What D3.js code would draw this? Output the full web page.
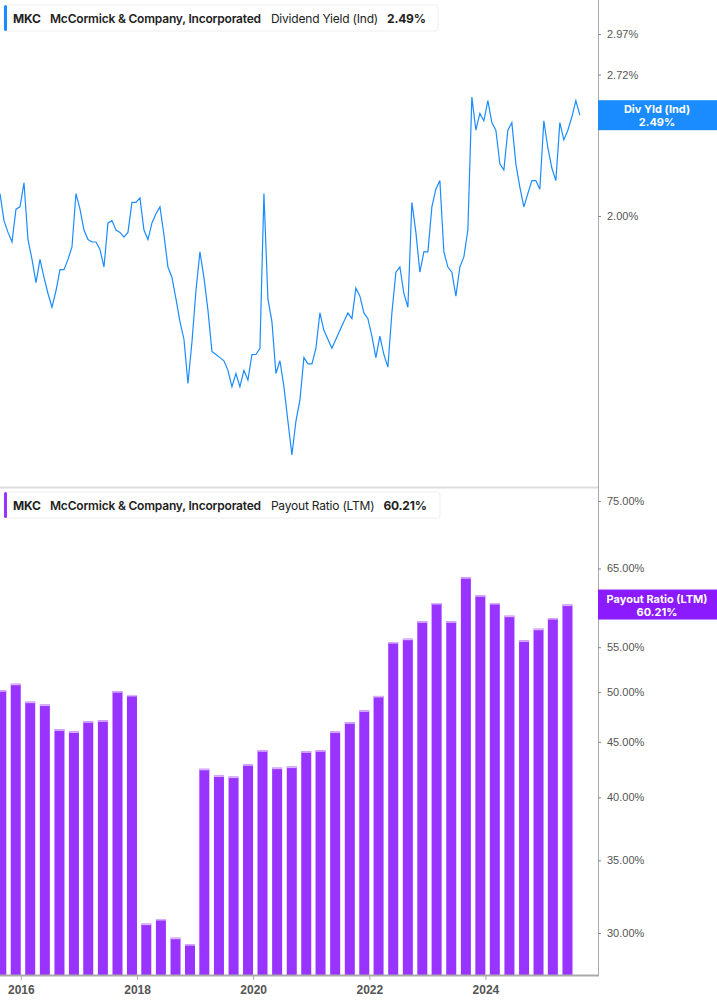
<!DOCTYPE html>
<html><head><meta charset="utf-8">
<script src="https://cdn.jsdelivr.net/npm/d3@7/dist/d3.min.js"></script>
<style>body{margin:0;background:#fff;font-family:Inter,"Noto Sans",sans-serif}</style>
</head><body><svg id="c" width="717" height="1005"></svg>
<script>
// Dividend yield (%), sampled roughly every 25 days from 2015-08-23
const yieldStart = new Date(2015, 7, 23);
const yieldStepDays = 25.15;
const yieldValues = [2.10,1.98,1.93,1.89,2.03,2.04,2.15,1.90,1.82,1.73,1.82,1.75,1.69,1.64,1.70,1.78,1.78,1.82,1.87,2.10,
2.03,1.94,1.90,1.89,1.89,1.86,1.79,1.97,1.98,1.94,1.93,1.91,1.93,2.06,2.06,2.08,1.94,1.90,1.97,2.01,
2.04,1.92,1.79,1.75,1.67,1.59,1.53,1.39,1.52,1.70,1.85,1.75,1.63,1.49,1.48,1.47,1.46,1.43,1.38,1.42,
1.38,1.43,1.40,1.48,1.48,1.50,2.10,1.67,1.59,1.42,1.46,1.38,1.28,1.19,1.28,1.34,1.47,1.45,1.45,1.50,
1.62,1.56,1.53,1.50,1.53,1.56,1.59,1.62,1.60,1.71,1.68,1.62,1.60,1.54,1.47,1.54,1.48,1.44,1.62,1.77,
1.79,1.69,1.64,2.06,1.93,1.77,1.85,1.85,2.04,2.12,2.16,1.85,1.79,1.77,1.68,1.79,1.83,1.94,2.59,2.41,
2.50,2.46,2.57,2.45,2.41,2.24,2.21,2.41,2.45,2.24,2.13,2.04,2.10,2.16,2.16,2.12,2.46,2.32,2.22,2.16,
2.45,2.36,2.41,2.48,2.57,2.49];
const yieldTicks = [2.00, 2.72, 2.97];

// Payout ratio (LTM, %) by fiscal quarter end
const payoutDates = ["2015-08-31","2015-11-30","2016-02-29","2016-05-31","2016-08-31","2016-11-30","2017-02-28","2017-05-31","2017-08-31","2017-11-30",
"2018-02-28","2018-05-31","2018-08-31","2018-11-30","2019-02-28","2019-05-31","2019-08-31","2019-11-30","2020-02-29","2020-05-31",
"2020-08-31","2020-11-30","2021-02-28","2021-05-31","2021-08-31","2021-11-30","2022-02-28","2022-05-31","2022-08-31","2022-11-30",
"2023-02-28","2023-05-31","2023-08-31","2023-11-30","2024-02-29","2024-05-31","2024-08-31","2024-11-30","2025-02-28","2025-05-31"];
const payoutValues = [50.2,50.9,49.0,48.7,46.2,46.0,47.0,47.1,50.1,49.7,
30.6,30.9,29.7,29.3,42.5,41.9,41.8,42.9,44.2,42.6,
42.7,44.1,44.2,46.0,46.9,48.1,49.6,55.6,56.0,58.1,
60.4,58.1,63.8,61.4,60.4,58.8,55.8,57.2,58.5,60.21];
const payoutTicks = [30,35,40,45,50,55,65,75];
const yearTicks = [2016,2018,2020,2022,2024];

const svg = d3.select("#c");
const W = 598;
const x = d3.scaleTime().domain([new Date(2015,7,23), new Date(2025,11,9)]).range([0, W]);
const yTop = d3.scaleLog().domain([2.00*Math.exp(-271/460), 2.00*Math.exp(216/460)]).range([487, 0]);
const yBot = d3.scaleLog().domain([30*Math.exp(-42/471.5), 30*Math.exp(433/471.5)]).range([975, 500]);
const blue = "#1a8cff", purple = "#9933ff", grey = "#555";

svg.append("line").attr("x1",0).attr("x2",W).attr("y1",487.5).attr("y2",487.5).attr("stroke","#ddd").attr("stroke-width",2);
svg.append("line").attr("x1",W+0.5).attr("x2",W+0.5).attr("y1",0).attr("y2",976).attr("stroke","#aaa");

const pts = yieldValues.map((v,i)=>({d:new Date(yieldStart.getTime()+i*yieldStepDays*864e5), v}));
svg.append("path").datum(pts).attr("fill","none").attr("stroke",blue).attr("stroke-width",1.2)
  .attr("d", d3.line().x(d=>x(d.d)).y(d=>yTop(d.v)));

const parse = d3.timeParse("%Y-%m-%d");
const bars = payoutDates.map((d,i)=>({d:parse(d), v:payoutValues[i]}));
const g = svg.append("g");
bars.forEach(b=>{
  const cx = x(b.d), top = yBot(b.v);
  g.append("rect").attr("x",cx-5).attr("width",10).attr("y",top).attr("height",975-top).attr("fill",purple);
  g.append("rect").attr("x",cx-5).attr("width",10).attr("y",top).attr("height",1.5).attr("fill","#d9b3ff");
});

[d3.axisRight(yTop).tickValues(yieldTicks), d3.axisRight(yBot).tickValues(payoutTicks)].forEach(ax=>{
  ax.tickSize(3).tickFormat(d=>d.toFixed(2)+"%");
  const a = svg.append("g").attr("transform",`translate(${W},0)`).call(ax);
  a.select(".domain").remove();
  a.selectAll("line").attr("stroke","#888");
  a.selectAll("text").attr("fill",grey).attr("font-size",11).attr("x",9);
});

const bAx = svg.append("g").attr("transform","translate(0,975)")
  .call(d3.axisBottom(x).tickValues(yearTicks.map(y=>new Date(y,0,1))).tickSize(5).tickFormat(d3.timeFormat("%Y")));
bAx.select(".domain").attr("d",`M0,0.5H${W+1}`).attr("stroke","#aaa").attr("stroke-width",2);
bAx.selectAll("line").attr("stroke","#aaa");
bAx.selectAll("text").attr("fill",grey).attr("font-size",12).attr("font-weight","bold").attr("dy","0.9em");

function legend(y0, color, label, val, w){
  const lg = svg.append("g").attr("transform",`translate(4,${y0})`);
  lg.append("rect").attr("width",w).attr("height",26).attr("rx",3).attr("fill","#fff").attr("stroke","#eee");
  lg.append("rect").attr("width",3).attr("height",26).attr("rx",1.5).attr("fill",color);
  const t = lg.append("text").attr("y",17.5).attr("font-size",12).attr("fill","#222").attr("letter-spacing","-0.2");
  t.append("tspan").attr("x",9).attr("font-weight","bold").text("MKC");
  t.append("tspan").attr("x",46).attr("font-weight","600").text("McCormick & Company, Incorporated");
  t.append("tspan").attr("dx",10).text(label);
  t.append("tspan").attr("dx",9).attr("font-weight","bold").text(val);
}
legend(5, blue, "Dividend Yield (Ind)", "2.49%", 434);
legend(492, purple, "Payout Ratio (LTM)", "60.21%", 436);

function flag(yc, color, l1, l2){
  svg.append("rect").attr("x",W).attr("y",yc-15).attr("width",717-W).attr("height",30).attr("fill",color);
  svg.append("text").attr("x",W+59).attr("y",yc-2).attr("text-anchor","middle").attr("fill","#fff").attr("font-size",11).attr("font-weight","bold").text(l1);
  svg.append("text").attr("x",W+59).attr("y",yc+11).attr("text-anchor","middle").attr("fill","#fff").attr("font-size",11).attr("font-weight","bold").text(l2);
}
flag(yTop(2.49), blue, "Div Yld (Ind)", "2.49%");
flag(yBot(60.21), "#8c1aff", "Payout Ratio (LTM)", "60.21%");
</script></body></html>
